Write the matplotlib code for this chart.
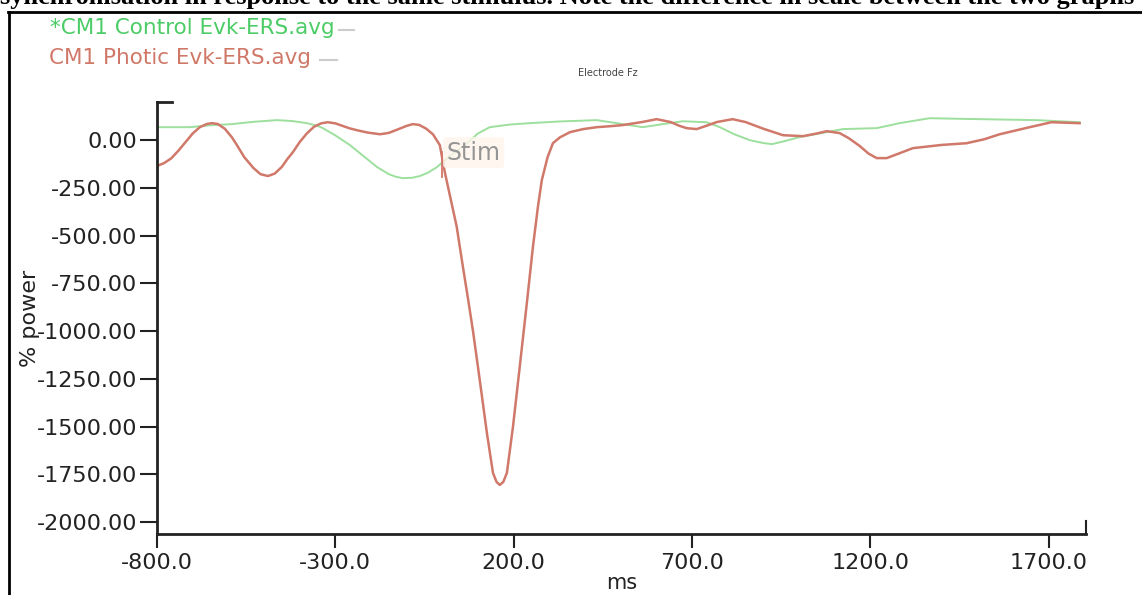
import matplotlib
matplotlib.use("Agg")
import matplotlib.pyplot as plt
from matplotlib.lines import Line2D

# data (ms, % power)
photic_ms = [-800, -780, -760, -740, -720, -700, -680, -660, -646, -630, -610, -590,
             -576, -555, -530, -510, -489, -470, -450, -435, -419, -400, -380, -360,
             -340, -321, -300, -280, -260, -239, -210, -175, -150, -120, -100, -83,
             -65, -45, -26, -7, 7, 21, 40, 58, 72, 86, 105, 125, 142, 152, 161, 171,
             181, 198, 217, 237, 254, 268, 279, 295, 310, 330, 358, 395, 433, 470,
             506, 560, 601, 640, 665, 685, 713, 740, 770, 814, 850, 900, 955, 1011,
             1050, 1078, 1114, 1140, 1170, 1195, 1218, 1246, 1280, 1319, 1400, 1470,
             1520, 1563, 1640, 1708, 1787]
photic_pw = [-135, -120, -95, -55, -10, 35, 68, 85, 89, 85, 60, 15,
             -26, -90, -145, -178, -188, -175, -140, -100, -63, -10, 35, 70,
             88, 94, 88, 75, 62, 52, 40, 31, 38, 60, 75, 84,
             80, 60, 30, -26, -168, -288, -450, -667, -830, -1000, -1257, -1534, -1743, -1790, -1806, -1790,
             -1743, -1503, -1188, -853, -560, -350, -209, -90, -16, 15, 42, 58, 68, 73,
             79, 95, 110, 95, 75, 63, 58, 75, 95, 110, 95, 60, 26, 21,
             35, 47, 37, 10, -30, -70, -94, -94, -70, -42, -25, -16,
             5, 31, 65, 94, 89]

control_ms = [-800, -708, -650, -590, -530, -464, -420, -380, -350, -335, -300, -259,
              -220, -183, -150, -130, -111, -85, -63, -40, -15, 20, 63, 100, 133, 190,
              245, 330, 433, 489, 562, 618, 674, 741, 778, 820, 862, 900, 924, 960,
              1002, 1078, 1123, 1218, 1282, 1366, 1507, 1666, 1787]
control_pw = [68, 68, 78, 84, 96, 105, 100, 89, 75, 63, 25, -26,
              -85, -141, -178, -192, -199, -197, -188, -170, -141, -85, -26, 35, 68, 82,
              89, 98, 105, 89, 68, 84, 99, 94, 68, 30, 0, -15, -21, -5,
              16, 42, 58, 63, 89, 115, 110, 105, 94]

y_ticks = [0, -250, -500, -750, -1000, -1250, -1500, -1750, -2000]
x_ticks = [-800, -300, 200, 700, 1200, 1700]
stim_ms = 0

red = "#d0786a"
green = "#9ddf9d"

fig = plt.figure(figsize=(11.42, 5.95), dpi=100)
ax = fig.add_axes([0.1375, 0.1025, 0.8135, 0.7261])

ax.plot(control_ms, control_pw, color=green, linewidth=1.4, solid_joinstyle="round")
ax.plot(photic_ms, photic_pw, color=red, linewidth=1.8, solid_joinstyle="round")

# stim marker
ax.plot([stim_ms, stim_ms], [-60, -195], color=red, linewidth=1.3)
ax.text(stim_ms + 12, -65, "Stim", fontsize=17, color="#949494", va="center",
        bbox=dict(boxstyle="round,pad=0.15", facecolor="#fff5ec", edgecolor="none", alpha=0.8))

ax.set_xlim(-800, 1805)
ax.set_ylim(-2063, 200)
ax.set_xticks(x_ticks)
ax.set_xticklabels([f"{v:.1f}" for v in x_ticks])
ax.set_yticks(y_ticks)
ax.set_yticklabels([f"{v:.2f}" for v in y_ticks])
ax.tick_params(axis="both", labelsize=16, colors="#222222", width=1.5)
ax.tick_params(axis="y", length=12, pad=2)
ax.tick_params(axis="x", length=10, pad=4)

for s in ["top", "right"]:
    ax.spines[s].set_visible(False)
for s in ["left", "bottom"]:
    ax.spines[s].set_linewidth(2)
    ax.spines[s].set_color("#222222")

# little end caps
ax.plot([0, 0.016], [1, 1], transform=ax.transAxes, color="#222222", lw=2, clip_on=False)
ax.plot([1, 1], [0, 0.03], transform=ax.transAxes, color="#222222", lw=1.5, clip_on=False)

ax.set_xlabel("ms", fontsize=15, labelpad=0, color="#222222")
ax.set_ylabel("% power", fontsize=16, labelpad=-2, color="#222222")

# legend-like titles
fig.text(0.044, 0.953, "*CM1 Control Evk-ERS.avg", fontsize=15.5, color="#4ccc66", va="center")
fig.text(0.043, 0.902, "CM1 Photic Evk-ERS.avg", fontsize=15.5, color="#d07868", va="center")
fig.add_artist(Line2D([0.297, 0.310], [0.950, 0.950], color="#cccccc", lw=1.5))
fig.add_artist(Line2D([0.280, 0.295], [0.899, 0.899], color="#cccccc", lw=1.5))
fig.text(0.532, 0.878, "Electrode Fz", fontsize=7, color="#444444", ha="center", va="center")

# scanned page: frame and cut-off caption line
fig.add_artist(Line2D([0.007, 1], [0.98, 0.98], color="black", lw=2))
fig.add_artist(Line2D([0.008, 0.008], [0, 0.98], color="black", lw=2))
fig.text(0.0, 1.004, "synchronisation in response to the same stimulus. Note the difference in scale between the two graphs",
         fontsize=19, family="Liberation Serif", weight="bold", va="center", ha="left")

fig.savefig("out.png", dpi=100)
